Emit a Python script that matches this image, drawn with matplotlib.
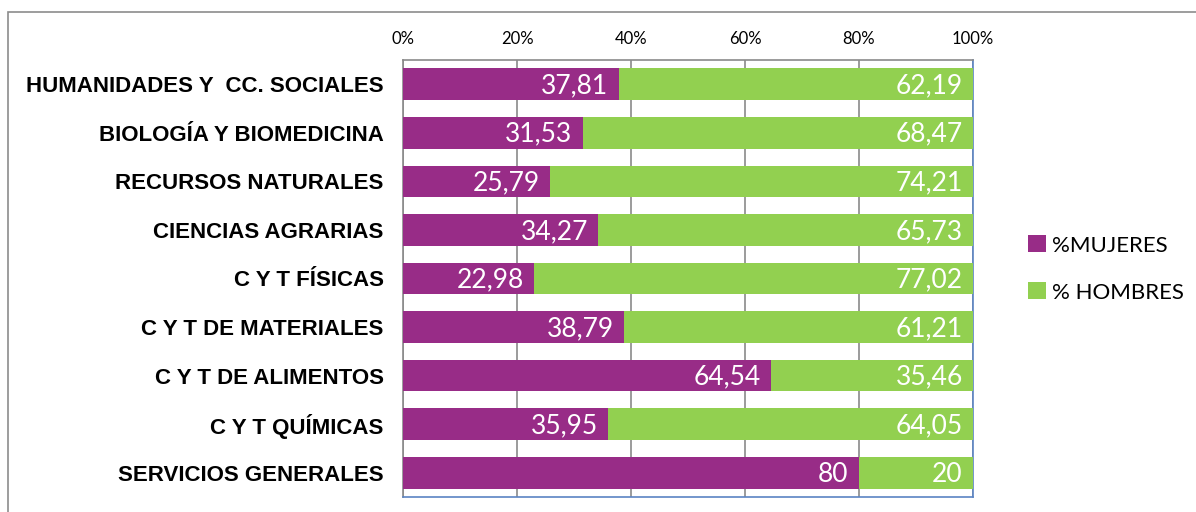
import numpy as np
import matplotlib
matplotlib.use('Agg')
import matplotlib.pyplot as plt
import matplotlib.patches as mpatches

categories = ["HUMANIDADES Y  CC. SOCIALES", "BIOLOGÍA Y BIOMEDICINA", "RECURSOS NATURALES",
              "CIENCIAS AGRARIAS", "C Y T FÍSICAS", "C Y T DE MATERIALES",
              "C Y T DE ALIMENTOS", "C Y T QUÍMICAS", "SERVICIOS GENERALES"]
mujeres = [37.81, 31.53, 25.79, 34.27, 22.98, 38.79, 64.54, 35.95, 80]
hombres = [62.19, 68.47, 74.21, 65.73, 77.02, 61.21, 35.46, 64.05, 20]
series_names = ["%MUJERES", "% HOMBRES"]

purple = '#982C87'
green = '#92D050'
label_font = 'Lato'

fig = plt.figure(figsize=(11.96, 5.12), dpi=100)
ax = fig.add_axes([403/1196, 1 - 497/512, 570/1196, 437/512])

# outer chart frame
fig.patches.append(mpatches.Rectangle((8/1196, -0.1), 1.2, 1 - 12/512 + 0.1,
                                      transform=fig.transFigure, fill=False,
                                      edgecolor='#8c8c8c', linewidth=1.2))

y = np.arange(len(categories))
h = 0.65
b1 = ax.barh(y, mujeres, height=h, color=purple, label=series_names[0], zorder=3)
b2 = ax.barh(y, hombres, left=mujeres, height=h, color=green, label=series_names[1], zorder=3)

def fmt(v):
    if float(v).is_integer():
        return '%d' % v
    return ('%.2f' % v).replace('.', ',')

for i, (m, w) in enumerate(zip(mujeres, hombres)):
    ax.text(m - 1.8, i + 0.03, fmt(m), ha='right', va='center', color='white',
            fontsize=19, family=label_font, zorder=4)
    ax.text(m + w - 1.8, i + 0.03, fmt(w), ha='right', va='center', color='white',
            fontsize=19, family=label_font, zorder=4)

ax.set_xlim(0, 100)
ax.set_ylim(len(categories) - 0.5, -0.5)
ax.set_xticks([0, 20, 40, 60, 80, 100])
ax.set_xticklabels(['0%', '20%', '40%', '60%', '80%', '100%'], family=label_font, fontsize=12)
ax.xaxis.tick_top()
ax.tick_params(axis='x', length=0, pad=9)
ax.set_yticks(y)
ax.set_yticklabels(categories, fontsize=16, fontweight='bold', family='Liberation Sans')
ax.tick_params(axis='y', length=0, pad=14)
ax.grid(axis='x', color='#8a8a8a', linewidth=1.2, zorder=0)

for s in ['left', 'bottom', 'right']:
    ax.spines[s].set_color('#5B84C4')
    ax.spines[s].set_linewidth(1.2)
ax.spines['left'].set_color('#8a8a8a')
ax.spines['top'].set_color('#8a8a8a')
ax.spines['top'].set_linewidth(1.2)

leg = fig.legend(handles=[b1, b2], loc='center left', bbox_to_anchor=(1028/1196, 1 - 269/512),
                 frameon=False, prop={'family': label_font, 'size': 16},
                 borderpad=0, borderaxespad=0,
                 handlelength=0.8, handleheight=0.8, handletextpad=0.3, labelspacing=1.2)

fig.savefig('out.png', dpi=100)
